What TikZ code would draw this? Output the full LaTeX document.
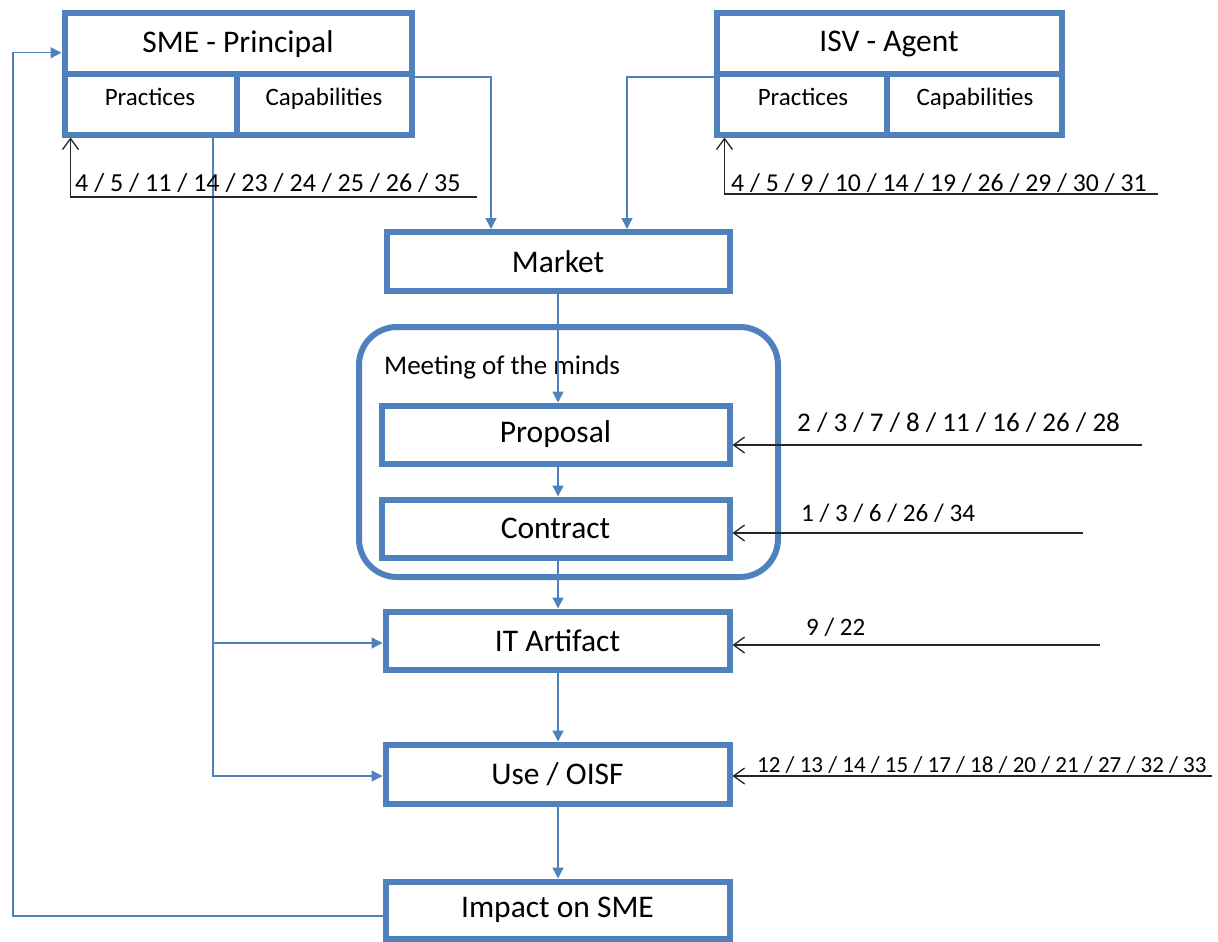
\documentclass[tikz,border=0pt]{standalone}
\usepackage{fontspec}
\setmainfont{Carlito}
\usetikzlibrary{arrows.meta}
\definecolor{obl}{HTML}{4F81BD}
\begin{document}
\begin{tikzpicture}[x=1pt,y=-1pt,
 box/.style={draw=obl,line width=6pt,minimum width=344pt,minimum height=58pt,inner sep=0pt,font=\fontsize{31.5}{37}\selectfont},
 cell/.style={draw=obl,line width=6pt,inner sep=0pt,minimum height=60.5pt},
 bl/.style={draw=obl,line width=1.4pt},
 bla/.style={bl,-{Triangle[length=11pt,width=11pt]}},
 blk/.style={draw=black!85,line width=1.4pt,-{Straight Barb[length=11pt,width=16pt,line width=1.3pt]}},
 lbl/.style={anchor=west,inner sep=0pt},
 big/.style={font=\fontsize{31.5}{37}\selectfont},
 mid/.style={font=\fontsize{25}{30}\selectfont,anchor=base,inner sep=0pt},
]
\useasboundingbox (0,0) rectangle (1218,942);

% SME - Principal
\node[cell,big,minimum width=347pt] (smetop) at (238,43.75) {SME - Principal};
\node[cell,minimum width=172.5pt] (smeprac) at (150.75,104.25) {};
\node[cell,minimum width=174.5pt] (smecap) at (324.25,104.25) {};
\node[mid] (smepract) at (150,106) {Practices};
\node[mid] (smecapt) at (324,106) {Capabilities};

% ISV - Agent
\node[cell,big,minimum width=345pt] (isvtop) at (889,43.75) {ISV - Agent};
\node[cell,minimum width=170.5pt] (isvprac) at (801.75,104.25) {};
\node[cell,minimum width=174.5pt] (isvcap) at (974.25,104.25) {};
\node[mid] (isvpract) at (803,106) {Practices};
\node[mid] (isvcapt) at (975,106) {Capabilities};

% central column
\node[box,minimum width=343pt,minimum height=59pt] (market) at (558,261.5) {Market};
\node[draw=obl,line width=6pt,rounded corners=38pt,minimum width=419pt,minimum height=250pt] (meet) at (568.5,452) {};
\node[lbl,font=\fontsize{27}{32}\selectfont] (meett) at (384,367) {Meeting of the minds};
\node[box,minimum width=348pt] (proposal) at (555.5,434.5) {Proposal};
\node[box,minimum width=348pt] (contract) at (555.5,528.5) {Contract};
\node[box] (itart) at (557.5,640.5) {IT Artifact};
\node[box,minimum height=59pt] (use) at (557.5,774) {Use / OISF};
\node[box,minimum height=57pt] (impact) at (557.5,910) {Impact on SME};

% blue connectors
\coordinate (sx) at (491,0);
\coordinate (ix) at (627,0);
\coordinate (px) at (213,0);
\coordinate (lx) at (13,0);
\draw[bla] (smetop.south east) -| (market.north -| sx);
\draw[bla] (isvtop.south west) -| (market.north -| ix);
\draw[bla] (market.south) -- (market.south |- proposal.north);
\draw[bla] (market.south |- proposal.south) -- (market.south |- contract.north);
\draw[bla] (market.south |- contract.south) -- (market.south |- itart.north);
\draw[bla] (market.south |- itart.south) -- (market.south |- use.north);
\draw[bla] (market.south |- use.south) -- (market.south |- impact.north);
\draw[bla] (smeprac.south -| px) |- ([yshift=-2pt]use.west);
\draw[bla] ([yshift=-2.5pt]px |- itart.west) -- ([yshift=-2.5pt]itart.west);
\draw[bla] ([yshift=-6pt]impact.west) -| ([yshift=-9pt]lx |- smetop.west) -- ([yshift=-9pt]smetop.west);

% black input arrows
\coordinate (sb) at (477,197);
\coordinate (ib) at (1158,194);
\coordinate (pr) at (1142,445);
\coordinate (cr) at (1083,533);
\coordinate (ir) at (1100,645);
\coordinate (ur) at (1212,776);
\draw[blk] (sb) -| ([xshift=9pt]smeprac.south west);
\draw[blk] (ib) -| ([xshift=11pt]isvprac.south west);
\draw[blk] (pr) -- (pr -| proposal.east);
\draw[blk] (cr) -- (cr -| contract.east);
\draw[blk] (ir) -- (ir -| itart.east);
\draw[blk] (ur) -- (ur -| use.east);

% number labels
\node[lbl,font=\fontsize{26}{31}\selectfont] (smel) at (75,183) {4 / 5 / 11 / 14 / 23 / 24 / 25 / 26 / 35};
\node[lbl,font=\fontsize{25.7}{31}\selectfont] (isvl) at (731,183) {4 / 5 / 9 / 10 / 14 / 19 / 26 / 29 / 30 / 31};
\node[lbl,font=\fontsize{27}{32}\selectfont] (prol) at (797,423) {2 / 3 / 7 / 8 / 11 / 16 / 26 / 28};
\node[lbl,font=\fontsize{25.2}{30}\selectfont] (conl) at (801,513) {1 / 3 / 6 / 26 / 34};
\node[lbl,font=\fontsize{25}{30}\selectfont] (itl) at (806,627) {9 / 22};
\node[lbl,font=\fontsize{23}{28}\selectfont] (usel) at (757,765) {12 / 13 / 14 / 15 / 17 / 18 / 20 / 21 / 27 / 32 / 33};
\end{tikzpicture}
\end{document}
